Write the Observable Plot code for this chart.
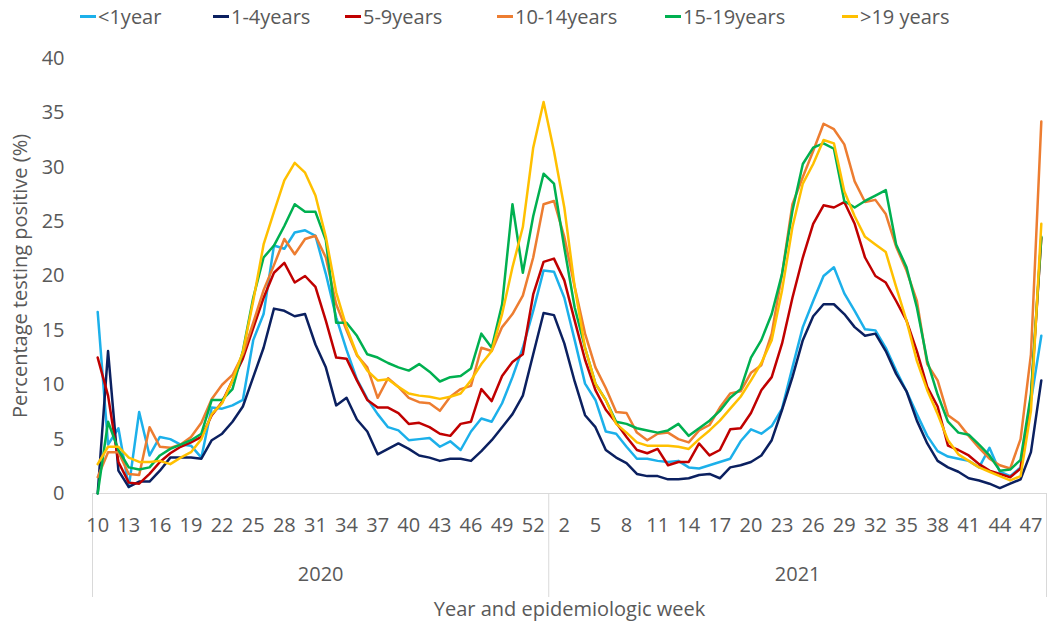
<!DOCTYPE html>
<html>
<head>
<meta charset="utf-8">
<script src="https://cdn.jsdelivr.net/npm/d3@7"></script>
<script src="https://cdn.jsdelivr.net/npm/@observablehq/plot@0.6"></script>
<style>
  body { margin: 0; background: #fff; }
  #chart { width: 1048px; height: 635px; font-family: "Open Sans", sans-serif; color: #595959; }
  #legend { height: 32px; display: grid; grid-template-columns: 133px 132px 152px 168px 177px auto;
            align-items: center; padding-left: 80px; font-size: 20px; }
  .item { display: flex; align-items: center; white-space: pre; }
  .swatch { width: 16px; height: 3px; margin-right: 2px; }
</style>
</head>
<body>
<div id="chart">
  <div id="legend"></div>
</div>
<script>
// Epidemiologic weeks: 2020 week 10 to 53, then 2021 week 1 to 48
const years = ["2020", "2021"];
const weeks2020 = [10,11,12,13,14,15,16,17,18,19,20,21,22,23,24,25,26,27,28,29,30,31,32,33,34,35,36,37,38,39,40,41,42,43,44,45,46,47,48,49,50,51,52,53];
const weeks2021 = [1,2,3,4,5,6,7,8,9,10,11,12,13,14,15,16,17,18,19,20,21,22,23,24,25,26,27,28,29,30,31,32,33,34,35,36,37,38,39,40,41,42,43,44,45,46,47,48];
const yTicks = [0, 5, 10, 15, 20, 25, 30, 35, 40];

const groups = ["<1year", "1-4years", "5-9years", "10-14years", "15-19years", ">19 years"];
const colors = ["#1CB0EA", "#0B2060", "#C00000", "#ED7D31", "#00B050", "#FFC000"];

// Percentage testing positive by age group, one value per week
const under1 = [16.7,4.5,6.0,0.6,7.5,3.5,5.2,5.0,4.5,4.4, 3.3,7.9,7.8,8.1,8.6,14.1,16.5,22.8,22.5,24.0,
  24.2,23.7,20.2,16.2,13.2,10.5,8.7,7.3,6.1,5.8, 4.9,5.0,5.1,4.3,4.8,4.0,5.7,6.9,6.6,8.3, 10.7,13.4,16.8,20.5,
  20.4,18.0,14.1,10.1,8.6,5.7,5.5,4.3,3.2,3.2, 3.0,2.9,3.0,2.4,2.3,2.6,2.9,3.2,4.8,5.9,
  5.5,6.2,7.8,11.6,15.3,17.7,20.0,20.8,18.4,16.8, 15.1,15.0,13.4,11.3,9.4,7.3,5.3,3.9,3.4,3.2, 3.0,2.4,4.2,2.0,1.6,2.4,8.5,14.5];
const age1to4 = [0,13.1,2.1,0.6,1.1,1.1,2.1,3.3,3.3,3.3, 3.2,4.9,5.5,6.6,8.0,10.7,13.4,17.0,16.8,16.3,
  16.5,13.7,11.6,8.1,8.8,6.8,5.7,3.6,4.1,4.6, 4.1,3.5,3.3,3.0,3.2,3.2,3.0,3.9,4.9,6.1, 7.3,9.0,12.8,16.6,
  16.4,13.8,10.3,7.2,6.1,4.0,3.3,2.8,1.8,1.6, 1.6,1.3,1.3,1.4,1.7,1.8,1.4,2.4,2.6,2.9,
  3.5,4.9,7.7,10.7,14.1,16.3,17.4,17.4,16.5,15.3, 14.5,14.7,13.1,11.0,9.4,6.7,4.6,3.0,2.4,2.0, 1.4,1.2,0.9,0.5,0.9,1.3,3.8,10.4];
const age5to9 = [12.5,9.0,2.9,1.0,0.9,1.8,2.9,3.7,4.3,4.7, 5.2,7.2,8.4,10.4,12.4,15.2,18.0,20.3,21.2,19.4,
  20.0,19.0,15.9,12.5,12.4,10.4,8.6,7.9,7.9,7.4, 6.4,6.5,6.1,5.5,5.3,6.4,6.6,9.6,8.5,10.8, 12.1,12.8,18.3,21.3,
  21.6,19.6,15.9,12.3,9.5,7.7,6.5,5.2,4.0,3.7, 4.1,2.6,2.9,2.9,4.6,3.5,4.0,5.9,6.0,7.4,
  9.5,10.7,13.8,18.0,21.7,24.8,26.5,26.3,26.8,24.8, 21.7,20.0,19.4,17.7,15.9,13.1,9.8,8.0,4.4,4.0, 3.5,2.7,2.1,1.8,1.5,2.3,8.8,23.5];
const age10to14 = [1.5,3.8,3.8,1.8,1.7,6.1,4.3,4.2,4.5,5.2, 6.5,8.7,10.0,10.9,12.8,15.7,18.7,21.0,23.4,22.0,
  23.4,23.7,21.7,17.4,15.0,12.7,11.6,8.8,10.6,9.8, 8.8,8.4,8.3,7.6,8.9,9.6,9.9,13.4,13.1,15.3, 16.5,18.2,21.7,26.6,
  26.9,23.6,19.0,14.7,11.6,9.7,7.5,7.4,5.6,4.9, 5.5,5.6,5.0,4.7,5.8,6.3,7.9,9.2,9.4,11.1,
  11.8,14.7,20.2,26.6,29.1,31.5,34.0,33.5,32.1,28.7, 26.8,27.0,25.7,22.7,20.5,17.7,11.9,10.4,7.2,6.5, 5.3,4.2,3.2,2.6,2.3,5.0,12.8,34.2];
const age15to19 = [0,6.6,4.0,2.4,2.2,2.4,3.5,4.1,4.5,4.9, 5.5,8.6,8.6,9.6,13.1,18.0,21.7,22.8,24.6,26.6,
  25.9,25.9,23.3,15.7,15.7,14.5,12.8,12.5,12.0,11.6, 11.3,11.9,11.2,10.3,10.7,10.8,11.5,14.7,13.4,17.4, 26.6,20.3,25.5,29.4,
  28.5,22.6,17.1,13.4,10.1,8.6,6.6,6.4,6.0,5.8, 5.6,5.8,6.4,5.3,6.0,6.7,7.6,8.8,9.6,12.5,
  14.1,16.5,20.2,26.0,30.3,31.8,32.2,31.7,26.9,26.3, 26.9,27.4,27.9,22.9,20.8,17.1,12.2,9.1,6.6,5.6, 5.4,4.5,3.5,2.1,2.2,3.1,9.1,23.6];
const over19 = [2.7,4.3,4.3,3.3,2.9,2.9,3.0,2.7,3.3,3.8, 5.0,7.3,8.3,10.4,13.0,17.7,22.9,25.9,28.8,30.4,
  29.5,27.4,23.6,18.5,15.3,12.8,11.3,10.4,10.5,9.8, 9.2,9.0,8.9,8.7,8.9,9.2,10.4,11.9,13.1,16.5, 20.8,24.5,31.8,36.0,
  31.5,26.3,19.0,13.4,10.1,8.6,6.4,5.6,4.7,4.4, 4.4,4.4,4.3,4.1,5.0,5.8,6.7,7.8,8.9,10.4,
  12.0,14.1,18.7,24.5,28.5,30.3,32.5,32.2,27.8,25.5, 23.6,22.9,22.2,19.0,15.9,12.2,9.5,7.3,4.9,3.6, 3.0,2.4,2.0,1.6,1.2,1.6,7.6,24.8];

const seriesValues = [under1, age1to4, age5to9, age10to14, age15to19, over19];

// Category axis: one slot per week, both years side by side
const weekLabels = [...weeks2020, ...weeks2021];
const n = weekLabels.length;
const yearSpans = [
  {year: years[0], start: 0, end: weeks2020.length},
  {year: years[1], start: weeks2020.length, end: n}
];
const tickIndex = d3.range(0, n, 3);
const boundaries = [-0.5, weeks2020.length - 0.5, n - 0.5];

const rows = [];
groups.forEach((g, k) => seriesValues[k].forEach((v, i) => rows.push({group: g, i, v})));

// Legend row
const legend = document.getElementById("legend");
groups.forEach((g, k) => {
  const item = document.createElement("div");
  item.className = "item";
  const sw = document.createElement("span");
  sw.className = "swatch";
  sw.style.background = colors[k];
  const tx = document.createElement("span");
  tx.textContent = g;
  item.append(sw, tx);
  legend.append(item);
});

const chart = Plot.plot({
  width: 1048,
  height: 603,
  marginTop: 26,
  marginBottom: 142,
  marginLeft: 92,
  marginRight: 2,
  style: {fontFamily: "'Open Sans', sans-serif", fontSize: "20px", color: "#595959", background: "transparent", overflow: "visible"},
  x: {domain: [-0.5, n - 0.5]},
  y: {domain: [0, 40]},
  color: {domain: groups, range: colors},
  marks: [
    Plot.ruleY([0], {stroke: "#d9d9d9", strokeWidth: 1}),
    Plot.ruleX(boundaries, {stroke: "#d9d9d9", strokeWidth: 1, insetTop: 435, insetBottom: -104}),
    Plot.axisY({ticks: yTicks, tickSize: 0, tickPadding: 28, fontSize: 20,
      label: "Percentage testing positive (%)", labelAnchor: "center", labelArrow: "none", labelOffset: 80}),
    Plot.axisX({ticks: tickIndex, tickFormat: i => weekLabels[i], tickSize: 0, tickPadding: 24, fontSize: 20, label: null}),
    Plot.text(yearSpans, {x: d => (d.start + d.end - 1) / 2, text: "year", frameAnchor: "bottom", dy: 87, fontSize: 20, fill: "#595959"}),
    Plot.text(["Year and epidemiologic week"], {frameAnchor: "bottom", dy: 122, fontSize: 20, fill: "#595959"}),
    Plot.line(rows, {x: "i", y: "v", z: "group", stroke: "group", strokeWidth: 2.5, strokeLinejoin: "round"})
  ]
});
document.getElementById("chart").append(chart);
</script>
</body>
</html>
